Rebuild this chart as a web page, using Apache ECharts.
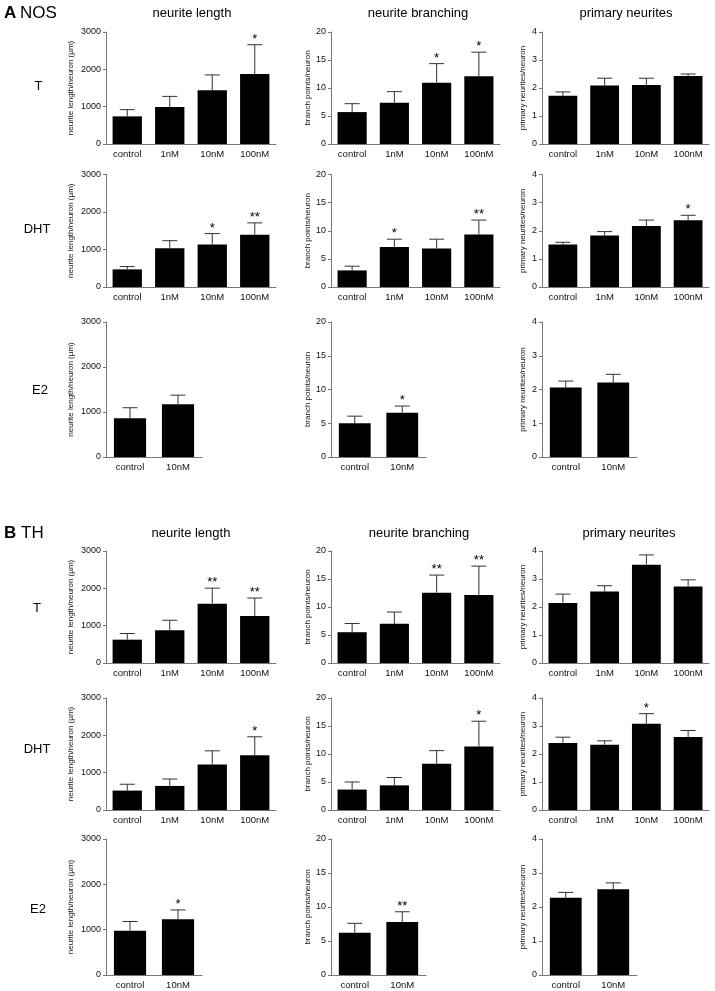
<!DOCTYPE html>
<html>
<head>
<meta charset="utf-8">
<script src="https://cdn.jsdelivr.net/npm/echarts@6/dist/echarts.min.js"></script>
<style>
  html, body { margin: 0; padding: 0; background: #fff; }
  #main { width: 715px; height: 991px; }
</style>
</head>
<body>
<div id="main"></div>
<script>
const cats4 = ['control', '1nM', '10nM', '100nM'];
const cats2 = ['control', '10nM'];

// A NOS - T
const nosT_len = [740, 990, 1440, 1875];
const nosT_lenSem = [180, 285, 410, 785];
const nosT_lenSig = ['', '', '', '*'];
const nosT_br = [5.7, 7.35, 10.95, 12.1];
const nosT_brSem = [1.5, 2.0, 3.4, 4.3];
const nosT_brSig = ['', '', '*', '*'];
const nosT_pr = [1.72, 2.09, 2.11, 2.43];
const nosT_prSem = [0.14, 0.26, 0.24, 0.07];
const nosT_prSig = ['', '', '', ''];
// A NOS - DHT
const nosDHT_len = [470, 1035, 1135, 1395];
const nosDHT_lenSem = [75, 200, 290, 315];
const nosDHT_lenSig = ['', '', '*', '**'];
const nosDHT_br = [2.95, 7.1, 6.85, 9.35];
const nosDHT_brSem = [0.75, 1.4, 1.65, 2.55];
const nosDHT_brSig = ['', '*', '', '**'];
const nosDHT_pr = [1.51, 1.83, 2.17, 2.37];
const nosDHT_prSem = [0.08, 0.14, 0.21, 0.18];
const nosDHT_prSig = ['', '', '', '*'];
// A NOS - E2
const nosE2_len = [860, 1175];
const nosE2_lenSem = [235, 200];
const nosE2_lenSig = ['', ''];
const nosE2_br = [5.0, 6.55];
const nosE2_brSem = [1.05, 1.0];
const nosE2_brSig = ['', '*'];
const nosE2_pr = [2.06, 2.21];
const nosE2_prSem = [0.19, 0.24];
const nosE2_prSig = ['', ''];

// B TH - T
const thT_len = [625, 880, 1590, 1260];
const thT_lenSem = [165, 265, 415, 480];
const thT_lenSig = ['', '', '**', '**'];
const thT_br = [5.5, 7.0, 12.55, 12.15];
const thT_brSem = [1.55, 2.1, 3.15, 5.15];
const thT_brSig = ['', '', '**', '**'];
const thT_pr = [2.14, 2.55, 3.51, 2.73];
const thT_prSem = [0.32, 0.21, 0.35, 0.24];
const thT_prSig = ['', '', '', ''];
// B TH - DHT
const thDHT_len = [520, 645, 1220, 1465];
const thDHT_lenSem = [170, 185, 365, 495];
const thDHT_lenSig = ['', '', '', '*'];
const thDHT_br = [3.65, 4.4, 8.25, 11.35];
const thDHT_brSem = [1.35, 1.4, 2.35, 4.5];
const thDHT_brSig = ['', '', '', '*'];
const thDHT_pr = [2.39, 2.33, 3.08, 2.61];
const thDHT_prSem = [0.21, 0.14, 0.36, 0.23];
const thDHT_prSig = ['', '', '*', ''];
// B TH - E2
const thE2_len = [975, 1230];
const thE2_lenSem = [205, 205];
const thE2_lenSig = ['', '*'];
const thE2_br = [6.2, 7.8];
const thE2_brSem = [1.4, 1.5];
const thE2_brSig = ['', '**'];
const thE2_pr = [2.27, 2.52];
const thE2_prSem = [0.16, 0.19];
const thE2_prSig = ['', ''];

const FONT = '"Liberation Sans", Arial, sans-serif';

// layout: rows (top, bottom of plot area) and columns
const rows = [[32, 144], [174.5, 287], [322, 457], [551, 663], [698, 810], [839, 975]];
const cols = [
  { left: 106, w4: 170, w2: 96 },
  { left: 331, w4: 169, w2: 95 },
  { left: 542, w4: 167, w2: 95 }
];
const kinds = {
  len: { max: 3000, interval: 1000, name: 'neurite length/neuron (µm)', gap: 31 },
  br: { max: 20, interval: 5, name: 'branch points/neuron', gap: 19 },
  pr: { max: 4, interval: 1, name: 'primary neurites/neuron', gap: 15 }
};

const panels = [
  [0, 0, 'len', cats4, nosT_len, nosT_lenSem, nosT_lenSig],
  [0, 1, 'br', cats4, nosT_br, nosT_brSem, nosT_brSig],
  [0, 2, 'pr', cats4, nosT_pr, nosT_prSem, nosT_prSig],
  [1, 0, 'len', cats4, nosDHT_len, nosDHT_lenSem, nosDHT_lenSig],
  [1, 1, 'br', cats4, nosDHT_br, nosDHT_brSem, nosDHT_brSig],
  [1, 2, 'pr', cats4, nosDHT_pr, nosDHT_prSem, nosDHT_prSig],
  [2, 0, 'len', cats2, nosE2_len, nosE2_lenSem, nosE2_lenSig],
  [2, 1, 'br', cats2, nosE2_br, nosE2_brSem, nosE2_brSig],
  [2, 2, 'pr', cats2, nosE2_pr, nosE2_prSem, nosE2_prSig],
  [3, 0, 'len', cats4, thT_len, thT_lenSem, thT_lenSig],
  [3, 1, 'br', cats4, thT_br, thT_brSem, thT_brSig],
  [3, 2, 'pr', cats4, thT_pr, thT_prSem, thT_prSig],
  [4, 0, 'len', cats4, thDHT_len, thDHT_lenSem, thDHT_lenSig],
  [4, 1, 'br', cats4, thDHT_br, thDHT_brSem, thDHT_brSig],
  [4, 2, 'pr', cats4, thDHT_pr, thDHT_prSem, thDHT_prSig],
  [5, 0, 'len', cats2, thE2_len, thE2_lenSem, thE2_lenSig],
  [5, 1, 'br', cats2, thE2_br, thE2_brSem, thE2_brSig],
  [5, 2, 'pr', cats2, thE2_pr, thE2_prSem, thE2_prSig]
];

const grid = [], xAxis = [], yAxis = [], series = [];

panels.forEach((p, i) => {
  const [r, c, kind, cats, mean, sem, sig] = p;
  const k = kinds[kind];
  const col = cols[c];
  grid.push({
    left: col.left,
    top: rows[r][0],
    width: cats.length === 4 ? col.w4 : col.w2,
    height: rows[r][1] - rows[r][0]
  });
  xAxis.push({
    type: 'category',
    gridIndex: i,
    data: cats,
    axisTick: { show: false },
    axisLine: { lineStyle: { color: '#777', width: 1 } },
    axisLabel: { color: '#111', fontSize: 9.5, fontFamily: FONT, margin: 5, interval: 0 }
  });
  yAxis.push({
    type: 'value',
    gridIndex: i,
    min: 0,
    max: k.max,
    interval: k.interval,
    name: k.name,
    nameLocation: 'middle',
    nameRotate: 90,
    nameGap: k.gap,
    nameTextStyle: { color: '#111', fontSize: 8, fontFamily: FONT },
    splitLine: { show: false },
    axisLine: { show: true, lineStyle: { color: '#777', width: 1 } },
    axisTick: { show: true, length: 3, lineStyle: { color: '#777' } },
    axisLabel: { color: '#111', fontSize: 9, fontFamily: FONT, margin: 5, formatter: v => String(v) }
  });
  series.push({
    type: 'bar',
    xAxisIndex: i,
    yAxisIndex: i,
    data: mean,
    barCategoryGap: cats.length === 4 ? '31%' : '33%',
    itemStyle: { color: '#000' },
    silent: true
  });
  series.push({
    type: 'custom',
    xAxisIndex: i,
    yAxisIndex: i,
    data: mean.map((m, j) => [j, m, m + sem[j]]),
    z: 3,
    silent: true,
    clip: false,
    renderItem: function (params, api) {
      const p0 = api.coord([api.value(0), api.value(1)]);
      const p1 = api.coord([api.value(0), api.value(2)]);
      const st = { stroke: '#333', lineWidth: 1 };
      const children = [
        { type: 'line', shape: { x1: p0[0], y1: p0[1], x2: p1[0], y2: p1[1] }, style: st },
        { type: 'line', shape: { x1: p1[0] - 7.5, y1: p1[1], x2: p1[0] + 7.5, y2: p1[1] }, style: st }
      ];
      const s = sig[params.dataIndex];
      if (s) {
        children.push({
          type: 'text',
          x: p1[0],
          y: p1[1] + 1,
          style: { text: s, fill: '#000', font: '13px ' + FONT, textAlign: 'center', textVerticalAlign: 'bottom' }
        });
      }
      return { type: 'group', children: children };
    }
  });
});

function label(text, x, y, size, weight, align) {
  return {
    type: 'text', x: x, y: y, silent: true,
    style: {
      text: text, fill: '#000',
      font: (weight || 'normal') + ' ' + size + 'px ' + FONT,
      textAlign: align || 'center', textVerticalAlign: 'middle'
    }
  };
}

const graphic = [
  label('A', 4, 13, 17, 'bold', 'left'),
  label('NOS', 20, 13, 17, 'normal', 'left'),
  label('B', 4, 533, 17, 'bold', 'left'),
  label('TH', 21, 533, 17, 'normal', 'left'),
  label('neurite length', 192, 13, 13),
  label('neurite branching', 418, 13, 13),
  label('primary neurites', 626, 13, 13),
  label('neurite length', 191, 533, 13),
  label('neurite branching', 419, 533, 13),
  label('primary neurites', 629, 533, 13),
  label('T', 38.5, 86, 13),
  label('DHT', 37, 229, 13),
  label('E2', 40, 390, 13),
  label('T', 37, 608, 13),
  label('DHT', 37, 749, 13),
  label('E2', 38, 909, 13)
];

const chart = echarts.init(document.getElementById('main'), null, { renderer: 'canvas' });
chart.setOption({
  backgroundColor: '#fff',
  animation: false,
  grid: grid,
  xAxis: xAxis,
  yAxis: yAxis,
  series: series,
  graphic: graphic
});
</script>
</body>
</html>
